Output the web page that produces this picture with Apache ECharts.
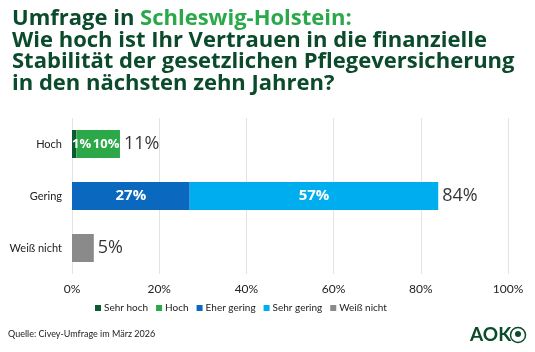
<!DOCTYPE html>
<html>
<head>
<meta charset="utf-8">
<script src="https://cdn.jsdelivr.net/npm/echarts@6/dist/echarts.min.js"></script>
<style>
  html, body { margin: 0; padding: 0; background: #fff; }
  #chart { width: 535px; height: 352px; }
</style>
</head>
<body>
<div id="chart"></div>
<script>
// categories from top to bottom
var categories = ["Hoch", "Gering", "Weiß nicht"];
var sehrHoch = [1, null, null];
var hoch = [10, null, null];
var eherGering = [null, 27, null];
var sehrGering = [null, 57, null];
var weissNicht = [null, null, 5];
var totals = [11, 84, 5];
var xTicks = [0, 20, 40, 60, 80, 100];

var font = "'Open Sans', sans-serif";
var smallFont = "Lato, sans-serif";

var chart = echarts.init(document.getElementById("chart"));

function inLabel(extra) {
    return Object.assign({
        show: true,
        color: "#fff",
        fontWeight: "bold",
        fontSize: 14,
        fontFamily: font,
        formatter: function (p) { return p.value + "%"; }
    }, extra || {});
}

chart.setOption({
    animation: false,
    textStyle: { fontFamily: smallFont },
    title: {
        left: 7,
        top: 3,
        text: "{a|Umfrage in }{b|Schleswig-Holstein:}\n{a|Wie hoch ist Ihr Vertrauen in die finanzielle}\n{a|Stabilität der gesetzlichen Pflegeversicherung}\n{a|in den nächsten zehn Jahren?}",
        textStyle: {
            rich: {
                a: { fontSize: 22, fontWeight: "bold", color: "#0b4a2b", fontFamily: font, lineHeight: 21.5 },
                b: { fontSize: 22, fontWeight: "bold", color: "#2aa84a", fontFamily: font, lineHeight: 21.5 }
            }
        }
    },
    legend: {
        left: 90,
        top: 298,
        itemWidth: 6,
        itemHeight: 6,
        itemGap: 8,
        icon: "rect",
        textStyle: { fontSize: 10, color: "#222", fontFamily: smallFont, padding: [0, 0, 0, -2] },
        data: ["Sehr hoch", "Hoch", "Eher gering", "Sehr gering", "Weiß nicht"]
    },
    grid: { left: 72, right: 27, top: 118, height: 156 },
    xAxis: {
        type: "value",
        min: 0,
        max: 100,
        interval: 20,
        axisLabel: {
            fontSize: 12,
            color: "#222",
            margin: 9,
            formatter: function (v) { return xTicks.indexOf(v) >= 0 ? v + "%" : ""; }
        },
        splitLine: { lineStyle: { color: "#e3e3e3" } },
        axisLine: { show: false },
        axisTick: { show: false }
    },
    yAxis: {
        type: "category",
        inverse: true,
        data: categories,
        axisLabel: { fontSize: 11, color: "#222", margin: 10 },
        axisLine: { show: false },
        axisTick: { show: false }
    },
    series: [
        {
            name: "Sehr hoch", type: "bar", stack: "a", barWidth: 28,
            itemStyle: { color: "#0b5a30" },
            label: inLabel({ position: "insideLeft", distance: 0, fontSize: 13 }),
            data: sehrHoch
        },
        {
            name: "Hoch", type: "bar", stack: "a",
            itemStyle: { color: "#2ba847" },
            label: inLabel({ position: "inside", offset: [8, 0], fontSize: 13 }),
            data: hoch
        },
        {
            name: "Eher gering", type: "bar", stack: "a",
            itemStyle: { color: "#0a69be" },
            label: inLabel({ position: "inside", fontSize: 15 }),
            data: eherGering
        },
        {
            name: "Sehr gering", type: "bar", stack: "a",
            itemStyle: { color: "#00adef" },
            label: inLabel({ position: "inside", fontSize: 15 }),
            data: sehrGering
        },
        {
            name: "Weiß nicht", type: "bar", stack: "a",
            itemStyle: { color: "#8a8a8a" },
            label: { show: false },
            data: weissNicht
        },
        {
            name: "total", type: "scatter", symbolSize: 0,
            label: {
                show: true, position: "right", distance: 4,
                fontSize: 18, color: "#000", fontFamily: font,
                formatter: function (p) { return p.value[0] + "%"; }
            },
            data: totals.map(function (t, i) { return [t, i]; })
        }
    ],
    graphic: [
        {
            type: "text", left: 8, top: 330,
            style: { text: "Quelle: Civey-Umfrage im März 2026", fontSize: 9, fill: "#222", fontFamily: smallFont }
        },
        {
            type: "text", left: 470, top: 325,
            style: { text: "AOK", fontSize: 19, fontWeight: "bold", fill: "#0b4a2b", fontFamily: smallFont }
        },
        {
            type: "circle", shape: { cx: 518, cy: 335, r: 7.5 },
            style: { fill: "none", stroke: "#0b4a2b", lineWidth: 1.5 }
        },
        {
            type: "circle", shape: { cx: 518, cy: 334, r: 3 },
            style: { fill: "#0b4a2b" }
        }
    ]
});
</script>
</body>
</html>
